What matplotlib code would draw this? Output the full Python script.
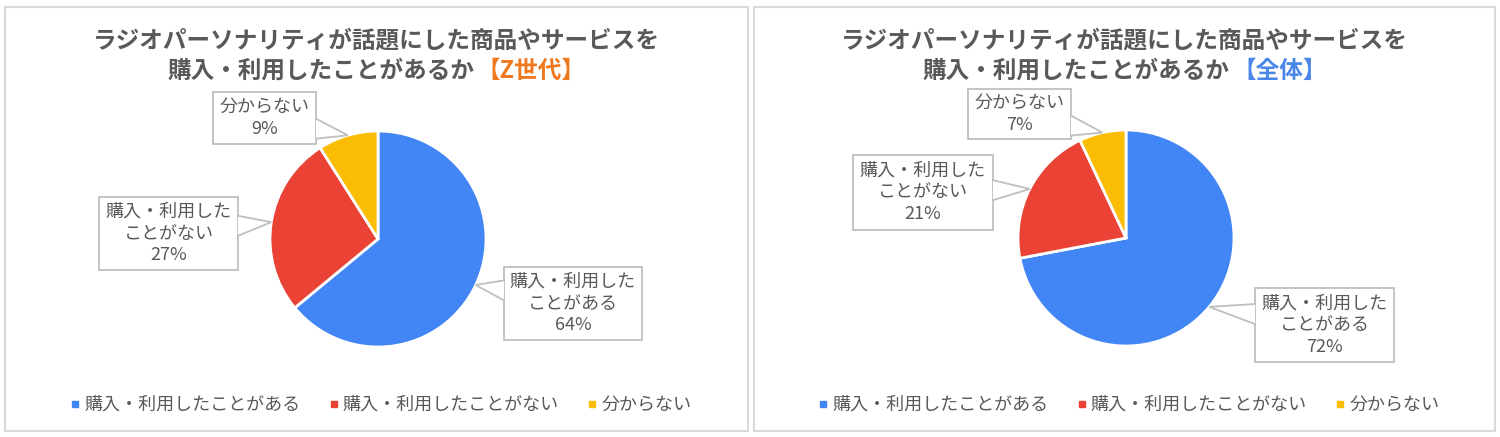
import matplotlib
matplotlib.use('Agg')
import matplotlib.pyplot as plt
import numpy as np
from matplotlib.patches import Rectangle, Polygon
from matplotlib.lines import Line2D
from matplotlib.offsetbox import TextArea, HPacker, AnnotationBbox

plt.rcParams['font.family'] = ['Noto Sans CJK JP', 'DejaVu Sans']

# data
categories = ['購入・利用したことがある', '購入・利用したことがない', '分からない']
box_labels = ['購入・利用した\nことがある', '購入・利用した\nことがない', '分からない']
z_values = [64, 27, 9]
all_values = [72, 21, 7]
title_main = 'ラジオパーソナリティが話題にした商品やサービスを'
title_sub = '購入・利用したことがあるか'
title_tags = ['【Z世代】', '【全体】']

colors = ['#4285F4', '#EA4335', '#FBBC04']
tag_colors = ['#F0781E', '#4A86E8']
gray = '#595959'

W, H = 1500, 437
R = 108

# panel layout in pixel coords measured from the top
panels = [
    dict(values=z_values, frame=(5, 7, 748, 431), center=(378, 239), legend_x=381,
         boxes=[(504, 267, 642, 340), (99, 197, 238, 270), (213, 92, 316, 144)]),
    dict(values=all_values, frame=(754, 7, 1495, 431), center=(1126, 238), legend_x=1129,
         boxes=[(1255, 288, 1394, 362), (853, 155, 993, 230), (968, 89, 1071, 139)]),
]


def fy(y):
    return H - y


def callout(ax, box, tip, text):
    x0, y0, x1, y1 = box
    bx0, bx1, by0, by1 = x0, x1, fy(y1), fy(y0)
    ax.add_patch(Rectangle((bx0, by0), bx1 - bx0, by1 - by0, facecolor='white',
                           edgecolor='#BFBFBF', linewidth=1.3, zorder=3))
    cx, cy = (bx0 + bx1) / 2, (by0 + by1) / 2
    dx, dy = tip[0] - cx, tip[1] - cy
    hw, hh = (bx1 - bx0) / 2, (by1 - by0) / 2
    # exit point of the centre->tip line on the box edge
    if abs(dx) * hh >= abs(dy) * hw:
        ex = cx + np.sign(dx) * hw
        ey = cy + dy * hw / abs(dx)
        ey = min(max(ey, by0 + 11), by1 - 11)
        b1, b2 = (ex, ey - 10), (ex, ey + 10)
    else:
        ey = cy + np.sign(dy) * hh
        ex = cx + dx * hh / abs(dy)
        ex = min(max(ex, bx0 + 11), bx1 - 11)
        b1, b2 = (ex - 10, ey), (ex + 10, ey)
    ax.add_patch(Polygon([b1, tip, b2], closed=True, facecolor='white',
                         edgecolor='none', zorder=4))
    ax.plot([b1[0], tip[0], b2[0]], [b1[1], tip[1], b2[1]], color='#BFBFBF',
            linewidth=1.3, zorder=4.5, solid_joinstyle='miter')
    ax.text(cx, cy, text, ha='center', va='center', fontsize=13, color=gray,
            linespacing=1.25, zorder=5)


fig = plt.figure(figsize=(15, 4.37), dpi=100)

for i, p in enumerate(panels):
    ax = fig.add_axes([0, 0, 1, 1])
    ax.patch.set_alpha(0)
    cx, cy = p['center'][0], fy(p['center'][1])
    wedges, _ = ax.pie(p['values'], colors=colors, startangle=90, counterclock=False,
                       center=(cx, cy), radius=R,
                       wedgeprops=dict(edgecolor='white', linewidth=2))
    ax.set_xlim(0, W)
    ax.set_ylim(0, H)
    ax.set_aspect('equal')
    ax.axis('off')

    fx0, fy0, fx1, fy1 = p['frame']
    ax.add_patch(Rectangle((fx0, fy(fy1)), fx1 - fx0, fy1 - fy0, facecolor='none',
                           edgecolor='#D9D9D9', linewidth=1.5, zorder=1))

    # callouts pointing at each slice
    for w, box, lab, v in zip(wedges, p['boxes'], box_labels, p['values']):
        mid = np.deg2rad((w.theta1 + w.theta2) / 2)
        tip = (cx + R * np.cos(mid), cy + R * np.sin(mid))
        callout(ax, box, tip, f'{lab}\n{v}%')

    # title
    tx = (fx0 + fx1) / 2
    ax.text(tx, fy(40), title_main, ha='center', va='center', fontsize=17,
            fontweight='bold', color=gray)
    packed = HPacker(children=[
        TextArea(title_sub, textprops=dict(fontsize=17, fontweight='bold', color=gray)),
        TextArea(title_tags[i], textprops=dict(fontsize=17, fontweight='bold',
                                               color=tag_colors[i]))],
        align='baseline', pad=0, sep=2)
    ab = AnnotationBbox(packed, (tx, fy(71)), xycoords='data', frameon=False,
                        box_alignment=(0.5, 0.5))
    ax.add_artist(ab)

    # legend
    handles = [Line2D([], [], marker='s', linestyle='', color=c, markersize=5)
               for c in colors]
    ax.legend(handles, categories, ncol=3, loc='center',
              bbox_to_anchor=(p['legend_x'] / W, 1 - 405 / H),
              bbox_transform=fig.transFigure, frameon=False, fontsize=13,
              labelcolor=gray, handlelength=0.5, handletextpad=0.25,
              columnspacing=1.6, borderpad=0)

fig.savefig('out.png', dpi=100, facecolor='white')
